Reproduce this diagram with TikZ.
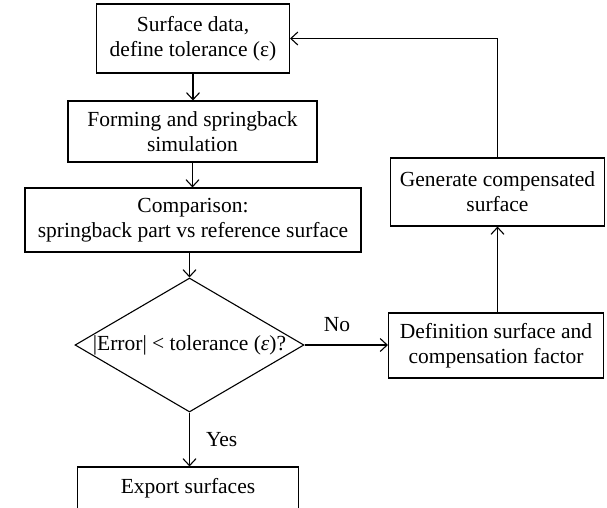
\documentclass[tikz,border=0pt]{standalone}
\usepackage{fontspec}
\setmainfont{Liberation Serif}
\usetikzlibrary{arrows.meta,shapes.geometric}
\begin{document}
\begin{tikzpicture}[x=1pt,y=-1pt,line width=1.1pt,
  box/.style={draw,inner sep=0pt,align=center,font=\fontsize{21.5}{25}\selectfont},
  txt/.style={inner sep=0pt,align=center,font=\fontsize{21.5}{25}\selectfont},
  arr/.style={-{Straight Barb[length=7pt,width=13pt]}}]
\useasboundingbox (0,0) rectangle (607,507);
\node[box,minimum width=193pt,minimum height=69pt] (b1) at (193,38.5) {Surface data,\\define tolerance (ε)};
\node[box,minimum width=249pt,minimum height=61pt] (b2) at (192.5,131.5) {Forming and springback\\simulation};
\node[box,minimum width=336pt,minimum height=64pt] (b3) at (193,220) {Comparison:\\springback part vs reference surface};
\node[draw,diamond,minimum width=229pt,minimum height=134pt,inner sep=0pt] (dec) at (189.5,345) {};
\node[txt] (dect) at (dec.center) {|Error| < tolerance (\textit{ε})?};
\node[box,minimum width=221pt,minimum height=60pt] (exp) at (188,497) {};
\node[txt] (expt) at (188,488) {Export surfaces};
\node[box,minimum width=215pt,minimum height=65pt] (def) at (496,345.5) {Definition surface and\\compensation factor};
\node[box,minimum width=214pt,minimum height=68pt] (gen) at (497.5,192) {Generate compensated\\surface};
\draw[arr] (b1.south) -- (b1.south |- b2.north);
\draw[arr] (b2.south) -- (b2.south |- b3.north);
\draw[arr] (b3.south -| dec.north) -- (dec.north);
\draw[arr] (dec.south) -- (dec.south |- exp.north) node[txt,midway,anchor=west,xshift=16pt] (yes) {Yes};
\draw[arr] (dec.east) -- (dec.east -| def.west) node[txt,pos=0.39,anchor=south,yshift=13pt] (no) {No};
\draw[arr] (gen.south |- def.north) -- (gen.south);
\draw[arr] (gen.north) -- (gen.north |- b1.east) -- (b1.east);
\end{tikzpicture}
\end{document}
